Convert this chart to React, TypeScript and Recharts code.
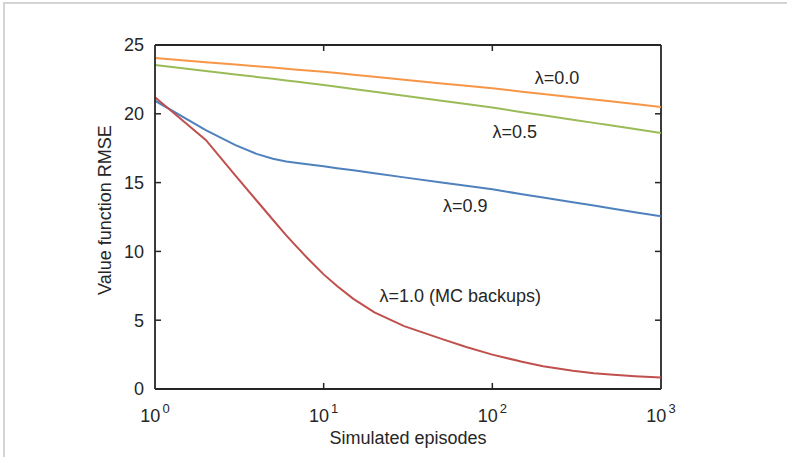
import React from "react";
import {
  LineChart,
  Line,
  XAxis,
  YAxis,
  ReferenceLine,
  ReferenceDot,
} from "recharts";

// episodes on a log axis
const episodes = [1, 2, 3, 4, 5, 6, 7, 8, 10, 12, 15, 20, 30, 50, 70, 100, 150, 200, 300, 400, 500, 700, 1000];

// RMSE per lambda
const lambda00 = [24.05, 23.75, 23.58, 23.46, 23.36, 23.28, 23.21, 23.15, 23.05, 22.96, 22.84, 22.69, 22.48, 22.21, 22.04, 21.85, 21.61, 21.44, 21.21, 21.04, 20.91, 20.71, 20.5];
const lambda05 = [23.55, 23.11, 22.86, 22.68, 22.54, 22.42, 22.33, 22.24, 22.1, 21.97, 21.81, 21.6, 21.31, 20.95, 20.71, 20.45, 20.12, 19.89, 19.57, 19.34, 19.16, 18.89, 18.6];
const lambda09 = [20.95, 18.82, 17.72, 17.09, 16.73, 16.54, 16.42, 16.33, 16.18, 16.05, 15.89, 15.68, 15.38, 15.01, 14.77, 14.51, 14.16, 13.91, 13.57, 13.33, 13.14, 12.85, 12.55];
const lambda10 = [21.2, 18.1, 15.5, 13.7, 12.3, 11.17, 10.27, 9.52, 8.33, 7.48, 6.55, 5.57, 4.57, 3.64, 3.05, 2.5, 1.98, 1.65, 1.32, 1.15, 1.05, 0.93, 0.83];

const xTicks = [1, 10, 100, 1000];
const yTicks = [0, 5, 10, 15, 20, 25];

// in-plot text annotations (data coords)
const noteText = ["λ=0.0", "λ=0.5", "λ=0.9", "λ=1.0 (MC backups)"];
const noteX = [242, 136, 69, 64.5];
const noteY = [22.6, 18.7, 13.3, 6.75];

const data = episodes.map((ep, i) => ({
  ep,
  l0: lambda00[i],
  l5: lambda05[i],
  l9: lambda09[i],
  l10: lambda10[i],
}));

const W = 787;
const H = 457;
const PLOT_LEFT = 155;
const PLOT_RIGHT = 661;
const PLOT_TOP = 45;
const PLOT_BOTTOM = 389;
const Y_AXIS_W = 100;
const X_AXIS_H = 60;
const TICK_LEN = 6;
const INK = "#262626";
const FONT = '"Liberation Sans", Arial, Helvetica, sans-serif';

const XTick = (props: any) => {
  const { x, payload } = props;
  const exp = Math.round(Math.log10(payload.value));
  const edge = payload.value === 1 || payload.value === 1000;
  return (
    <g>
      {!edge && (
        <>
          <line x1={x} x2={x} y1={PLOT_BOTTOM} y2={PLOT_BOTTOM - TICK_LEN} stroke={INK} strokeWidth={1.5} />
          <line x1={x} x2={x} y1={PLOT_TOP} y2={PLOT_TOP + TICK_LEN} stroke={INK} strokeWidth={1.5} />
        </>
      )}
      <text x={x} y={PLOT_BOTTOM + 33} textAnchor="middle" fill={INK} fontSize={18} fontFamily={FONT}>
        <tspan>10</tspan>
        <tspan dx={2} dy={-9} fontSize={13}>{exp}</tspan>
      </text>
    </g>
  );
};

const YTick = (props: any) => {
  const { y, payload } = props;
  const edge = payload.value === 0 || payload.value === 25;
  return (
    <g>
      {!edge && (
        <>
          <line x1={PLOT_LEFT} x2={PLOT_LEFT + TICK_LEN} y1={y} y2={y} stroke={INK} strokeWidth={1.5} />
          <line x1={PLOT_RIGHT} x2={PLOT_RIGHT - TICK_LEN} y1={y} y2={y} stroke={INK} strokeWidth={1.5} />
        </>
      )}
      <text x={PLOT_LEFT - 11} y={y} dy="0.35em" textAnchor="end" fill={INK} fontSize={18} fontFamily={FONT}>
        {payload.value}
      </text>
    </g>
  );
};

const XLabel = (props: any) => {
  const { viewBox } = props;
  return (
    <text x={viewBox.x + viewBox.width / 2} y={PLOT_BOTTOM + 55} textAnchor="middle" fill={INK} fontSize={18} fontFamily={FONT}>
      Simulated episodes
    </text>
  );
};

const YLabel = (props: any) => {
  const { viewBox } = props;
  const cx = PLOT_LEFT - 50;
  const cy = viewBox.y + viewBox.height / 2 - 7;
  return (
    <text
      x={cx}
      y={cy}
      dy="0.35em"
      textAnchor="middle"
      transform={`rotate(-90, ${cx}, ${cy})`}
      fill={INK}
      fontSize={18}
      fontFamily={FONT}
    >
      Value function RMSE
    </text>
  );
};

const Note = (props: any) => {
  const { viewBox, value } = props;
  return (
    <text x={viewBox.x} y={viewBox.y} dy="0.35em" textAnchor="middle" fill={INK} fontSize={18} fontFamily={FONT}>
      {value}
    </text>
  );
};

export default function App() {
  return (
    <div style={{ position: "absolute", left: 0, top: 0, width: W, height: H, background: "#fff", fontFamily: FONT }}>
      <div
        style={{
          position: "absolute",
          left: 3,
          top: 2,
          right: 0,
          bottom: 0,
          borderTop: "2px solid #d4d4d4",
          borderLeft: "2px solid #d4d4d4",
        }}
      />
      <div style={{ position: "absolute", left: 0, top: 0 }}>
        <LineChart
          width={W}
          height={H}
          data={data}
          margin={{
            top: PLOT_TOP,
            right: W - PLOT_RIGHT,
            bottom: H - PLOT_BOTTOM - X_AXIS_H,
            left: PLOT_LEFT - Y_AXIS_W,
          }}
        >
          <XAxis
            dataKey="ep"
            type="number"
            scale="log"
            domain={[1, 1000]}
            ticks={xTicks}
            height={X_AXIS_H}
            tickSize={0}
            tickLine={false}
            axisLine={{ stroke: INK, strokeWidth: 1.8 }}
            tick={<XTick />}
            label={<XLabel />}
            allowDataOverflow
          />
          <YAxis
            type="number"
            domain={[0, 25]}
            ticks={yTicks}
            width={Y_AXIS_W}
            tickSize={0}
            tickLine={false}
            axisLine={{ stroke: INK, strokeWidth: 1.8 }}
            tick={<YTick />}
            label={<YLabel />}
            allowDataOverflow
          />
          <ReferenceLine y={25} stroke={INK} strokeWidth={1.8} />
          <ReferenceLine x={1000} stroke={INK} strokeWidth={1.8} />
          <Line type="linear" dataKey="l0" stroke="#F79646" strokeWidth={2} dot={false} activeDot={false} isAnimationActive={false} />
          <Line type="linear" dataKey="l5" stroke="#9BBB59" strokeWidth={2} dot={false} activeDot={false} isAnimationActive={false} />
          <Line type="linear" dataKey="l9" stroke="#4F81BD" strokeWidth={2} dot={false} activeDot={false} isAnimationActive={false} />
          <Line type="linear" dataKey="l10" stroke="#C0504D" strokeWidth={2} dot={false} activeDot={false} isAnimationActive={false} />
          {noteText.map((t, i) => (
            <ReferenceDot
              key={t}
              x={noteX[i]}
              y={noteY[i]}
              r={0}
              stroke="none"
              fill="none"
              label={<Note value={t} />}
            />
          ))}
        </LineChart>
      </div>
    </div>
  );
}
